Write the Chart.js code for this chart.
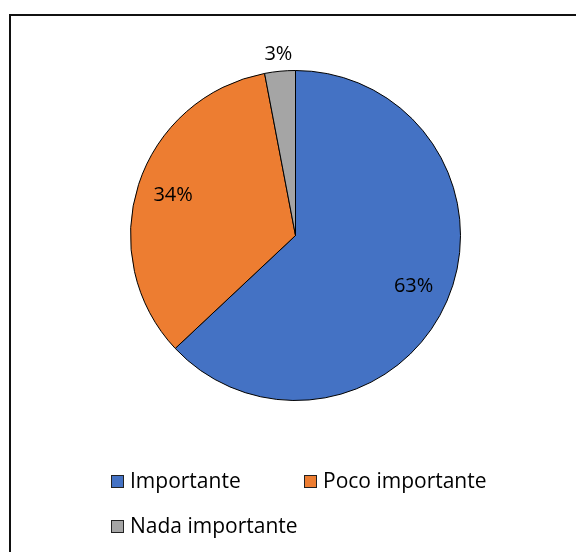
<!DOCTYPE html>
<html>
<head>
<meta charset="utf-8">
<script src="https://cdn.jsdelivr.net/npm/chart.js@4"></script>
<style>
  html, body { margin: 0; padding: 0; background: #fff; }
  #wrap { width: 576px; height: 552px; }
</style>
</head>
<body>
<div id="wrap"><canvas id="mycanvas"></canvas></div>
<script>
const categories = ['Importante', 'Poco importante', 'Nada importante'];
const percents = [63, 34, 3];
const sliceColors = ['#4472C4', '#ED7D31', '#A5A5A5'];

const FONT = '"Open Sans", "Liberation Sans", sans-serif';

// frame around the chart (right and bottom fall outside the window)
const framePlugin = {
    id: 'frame',
    beforeDraw(chart) {
        const ctx = chart.ctx;
        ctx.save();
        ctx.fillStyle = '#fff';
        ctx.fillRect(0, 0, chart.width, chart.height);
        ctx.strokeStyle = '#111';
        ctx.lineWidth = 2;
        ctx.beginPath();
        ctx.moveTo(10, chart.height + 2);
        ctx.lineTo(10, 15);
        ctx.lineTo(chart.width + 2, 15);
        ctx.stroke();
        ctx.restore();
    }
};

// percentage labels on the slices
const labelPlugin = {
    id: 'sliceLabels',
    afterDatasetsDraw(chart) {
        const ctx = chart.ctx;
        const meta = chart.getDatasetMeta(0);
        ctx.save();
        ctx.font = '20px ' + FONT;
        ctx.fillStyle = '#000';
        ctx.textAlign = 'center';
        ctx.textBaseline = 'middle';
        meta.data.forEach((arc, i) => {
            const p = arc.getProps(['x', 'y', 'startAngle', 'endAngle', 'outerRadius'], true);
            const mid = (p.startAngle + p.endAngle) / 2;
            const r = percents[i] < 10 ? p.outerRadius + 17 : p.outerRadius * 0.78;
            ctx.fillText(percents[i] + '%', p.x + Math.cos(mid) * r, p.y + Math.sin(mid) * r);
        });
        ctx.restore();
    }
};

// legend at the bottom, two columns
const legendPlugin = {
    id: 'bottomLegend',
    afterDraw(chart) {
        const ctx = chart.ctx;
        const spots = [[111, 481], [304, 481], [111, 526]];
        ctx.save();
        ctx.font = '21px ' + FONT;
        ctx.textBaseline = 'middle';
        categories.forEach((name, i) => {
            const [x, y] = spots[i];
            ctx.fillStyle = sliceColors[i];
            ctx.fillRect(x, y - 6, 12, 12);
            ctx.strokeStyle = '#222';
            ctx.lineWidth = 1;
            ctx.strokeRect(x + 0.5, y - 5.5, 12, 12);
            ctx.fillStyle = '#000';
            ctx.fillText(name, x + 19, y + 1);
        });
        ctx.restore();
    }
};

new Chart(document.getElementById('mycanvas'), {
    type: 'pie',
    data: {
        labels: categories,
        datasets: [{
            data: percents,
            backgroundColor: sliceColors,
            borderColor: '#000',
            borderWidth: 1
        }]
    },
    options: {
        responsive: true,
        maintainAspectRatio: false,
        animation: false,
        layout: {
            padding: { left: 130, right: 115, top: 70, bottom: 151 }
        },
        plugins: {
            legend: { display: false },
            tooltip: { enabled: false }
        }
    },
    plugins: [framePlugin, labelPlugin, legendPlugin]
});
</script>
</body>
</html>
